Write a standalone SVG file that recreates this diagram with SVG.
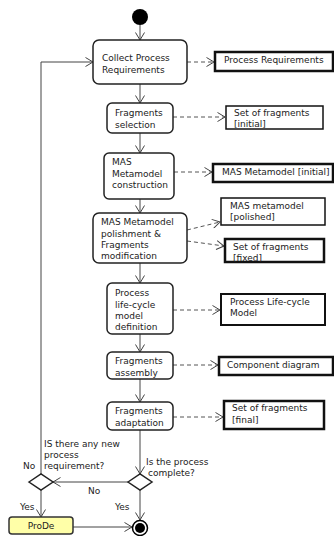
<svg xmlns="http://www.w3.org/2000/svg" width="334" height="536" viewBox="0 0 334 536">
<defs>
<marker id="arr" markerWidth="9" markerHeight="10" refX="8" refY="5" orient="auto" markerUnits="userSpaceOnUse">
<path d="M0.5,0.5 L8,5 L0.5,9.5" fill="none" stroke="#444" stroke-width="1"/>
</marker>
<style>
text{font-family:"DejaVu Sans",Verdana,sans-serif;font-size:9px;fill:#222}
.act{fill:#fff;stroke:#222;stroke-width:1.5}
.obj{fill:#fff;stroke:#111;stroke-width:2.5}
.objt{fill:#fff;stroke:#111;stroke-width:1.5}
.flow{fill:none;stroke:#444;stroke-width:1;marker-end:url(#arr)}
.dep{fill:none;stroke:#555;stroke-width:1;stroke-dasharray:4,3;marker-end:url(#arr)}
.dec{fill:#fff;stroke:#222;stroke-width:1.5}
</style>
</defs>
<rect width="334" height="536" fill="#fff"/>
<g id="connectors">
<path class="flow" d="M140,25 L140,40"/>
<path class="flow" d="M140,84 L140,103"/>
<path class="flow" d="M140,133 L140,153"/>
<path class="flow" d="M140,199 L140,213"/>
<path class="flow" d="M140,263 L140,283"/>
<path class="flow" d="M140,334 L140,352"/>
<path class="flow" d="M140,379 L140,402"/>
<path class="flow" d="M140,430 L140,474"/>
<path class="flow" d="M128,482 L53,482"/>
<path class="flow" d="M41,474 L41,62 L93,62"/>
<path class="flow" d="M41,490 L41,517"/>
<path class="flow" d="M140,490 L140,520"/>
<path class="flow" d="M73,527 L132,527"/>
<path class="dep" d="M187,62 L214,62"/>
<path class="dep" d="M173,117 L225,117"/>
<path class="dep" d="M174,172 L212,172"/>
<path class="dep" d="M187,230 L220,222"/>
<path class="dep" d="M187,241 L224,246"/>
<path class="dep" d="M173,310 L220,310"/>
<path class="dep" d="M173,365 L218,365"/>
<path class="dep" d="M173,417 L223,417"/>
</g>
<g id="start"><circle cx="140" cy="17" r="8" fill="#000"/></g>
<g id="collect"><rect class="act" x="93" y="40" width="94" height="44" rx="6"/><text x="102" y="61">Collect Process</text><text x="102" y="72.5">Requirements</text></g>
<g id="frag-sel"><rect class="act" x="107" y="103" width="66" height="30" rx="5"/><text x="115" y="116">Fragments</text><text x="115" y="127.5">selection</text></g>
<g id="mas-constr"><rect class="act" x="104" y="153" width="70" height="46" rx="5"/><text x="112" y="165">MAS</text><text x="112" y="176.5">Metamodel</text><text x="112" y="188">construction</text></g>
<g id="mas-polish"><rect class="act" x="93" y="213" width="94" height="50" rx="6"/><text x="101" y="225">MAS Metamodel</text><text x="101" y="236.5">polishment &amp;</text><text x="101" y="248">Fragments</text><text x="101" y="259">modification</text></g>
<g id="lifecycle"><rect class="act" x="107" y="283" width="66" height="51" rx="5"/><text x="115" y="296">Process</text><text x="115" y="307.5">life-cycle</text><text x="115" y="319">model</text><text x="115" y="330">definition</text></g>
<g id="assembly"><rect class="act" x="107" y="352" width="66" height="27" rx="5"/><text x="115" y="364">Fragments</text><text x="115" y="375.5">assembly</text></g>
<g id="adaptation"><rect class="act" x="107" y="402" width="66" height="28" rx="5"/><text x="115" y="414">Fragments</text><text x="115" y="425.5">adaptation</text></g>
<g id="obj-pr"><rect class="obj" x="215" y="52" width="118" height="19"/><text x="224" y="62.5">Process Requirements</text></g>
<g id="obj-sof-init"><rect class="objt" x="226" y="106" width="97" height="23"/><text x="234" y="115.5">Set of fragments</text><text x="234" y="126.5">[initial]</text></g>
<g id="obj-mas-init"><rect class="obj" x="213" y="164" width="120" height="18"/><text x="222" y="175">MAS Metamodel [initial]</text></g>
<g id="obj-mas-pol"><rect class="objt" x="221" y="198" width="104" height="27"/><text x="230" y="208.5">MAS metamodel</text><text x="230" y="220">[polished]</text></g>
<g id="obj-sof-fixed"><rect class="obj" x="225" y="239" width="99" height="23"/><text x="233" y="249.5">Set of fragments</text><text x="233" y="261">[fixed]</text></g>
<g id="obj-plc"><rect class="obj" x="221" y="294" width="104" height="31" style="stroke-width:2"/><text x="230" y="304.5">Process Life-cycle</text><text x="230" y="316">Model</text></g>
<g id="obj-comp"><rect class="obj" x="219" y="357" width="114" height="18"/><text x="227" y="368">Component diagram</text></g>
<g id="obj-sof-final"><rect class="obj" x="224" y="401" width="100" height="28"/><text x="232" y="411">Set of fragments</text><text x="232" y="422.5">[final]</text></g>
<g id="dec-new"><path class="dec" d="M29,482 L41,474 L53,482 L41,490 Z"/></g>
<g id="dec-complete"><path class="dec" d="M128,482 L140,474 L152,482 L140,490 Z"/></g>
<g id="prode"><rect x="9" y="517" width="64" height="17" rx="3" fill="#ffffa8" stroke="#333" stroke-width="1.5"/><text x="41" y="529" text-anchor="middle">ProDe</text></g>
<g id="end"><circle cx="140" cy="528" r="7.5" fill="#fff" stroke="#000" stroke-width="1.5"/><circle cx="140" cy="528" r="5" fill="#000"/></g>
<g id="labels">
<text x="44" y="447">IS there any new</text>
<text x="44" y="458">process</text>
<text x="44" y="469">requirement?</text>
<text x="23" y="469">No</text>
<text x="146" y="465">Is the process</text>
<text x="148" y="476">complete?</text>
<text x="88" y="494">No</text>
<text x="20" y="510">Yes</text>
<text x="115" y="510">Yes</text>
</g>
</svg>
